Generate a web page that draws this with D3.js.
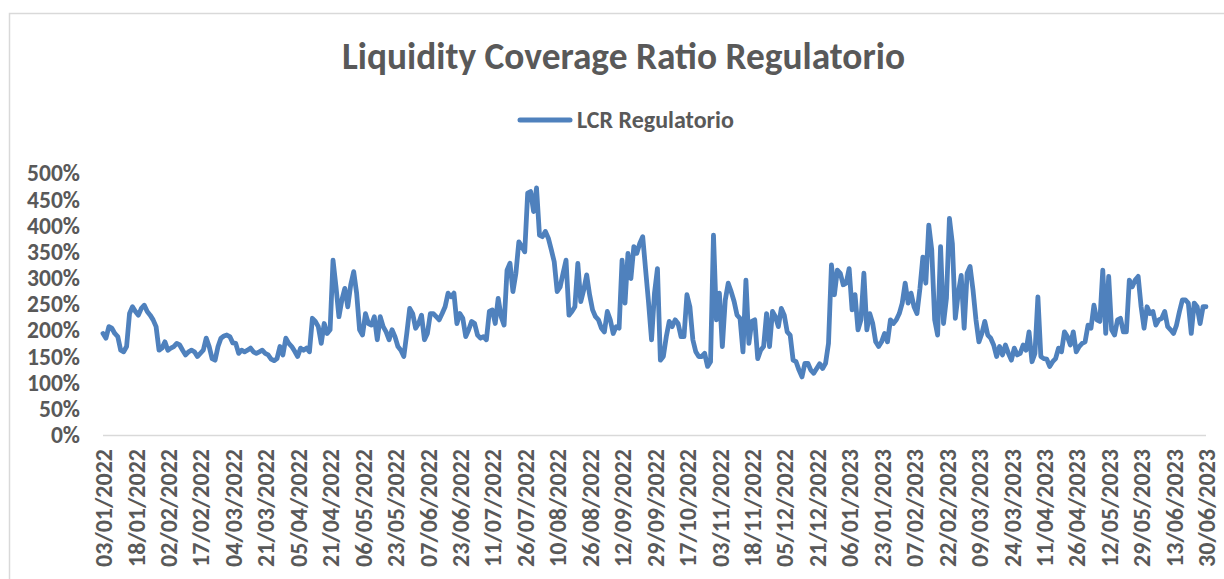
<!DOCTYPE html>
<html>
<head>
<meta charset="utf-8">
<script src="https://cdn.jsdelivr.net/npm/d3@7"></script>
<style>
  html, body { margin: 0; padding: 0; background: #ffffff; }
  svg { display: block; }
</style>
</head>
<body>
<svg id="chart" width="1224" height="579"></svg>
<script>
// ---------------- DATA ----------------
const chartTitle = "Liquidity Coverage Ratio Regulatorio";
const seriesName = "LCR Regulatorio";

// Category labels shown on the x axis (one every 11 business days)
const tickLabels = [
  "03/01/2022","18/01/2022","02/02/2022","17/02/2022","04/03/2022","21/03/2022",
  "05/04/2022","21/04/2022","06/05/2022","23/05/2022","07/06/2022","23/06/2022",
  "11/07/2022","26/07/2022","10/08/2022","26/08/2022","12/09/2022","29/09/2022",
  "17/10/2022","03/11/2022","18/11/2022","05/12/2022","21/12/2022","06/01/2023",
  "23/01/2023","07/02/2023","22/02/2023","09/03/2023","24/03/2023","11/04/2023",
  "26/04/2023","12/05/2023","29/05/2023","13/06/2023","30/06/2023"
];
const labelInterval = 11;

// Y axis ticks (percent)
const yTicks = [0, 50, 100, 150, 200, 250, 300, 350, 400, 450, 500];

// LCR Regulatorio daily values (%)
const lcrValues = [
  // Jan - Apr 2022
  194,185,207,204,194,188,162,159,169,232,
  245,236,229,242,248,236,229,220,207,162,
  166,178,162,166,169,175,172,162,153,159,
  162,159,150,156,162,185,169,146,143,169,
  185,189,191,188,176,175,156,162,159,162,
  166,159,156,159,162,156,153,145,142,
  // Apr - Jul 2022
  146,169,153,185,175,169,160,150,166,162,
  166,159,223,217,207,175,213,194,201,334,
  283,226,258,280,245,287,312,271,201,191,
  232,213,210,226,182,226,207,197,182,201,
  188,169,162,150,194,242,232,204,213,229,
  182,194,232,232,226,220,232,245,271,264,
  271,213,232,223,
  // Jul - Oct 2022
  188,201,217,213,191,185,188,182,236,239,
  213,261,226,210,315,328,274,309,369,360,
  350,462,465,427,472,382,379,389,376,354,
  331,274,283,309,334,229,236,245,328,255,
  277,306,268,239,226,220,204,197,236,220,
  194,207,204,334,252,347,299,360,347,366,
  379,315,252,182,271,318,
  // Oct 2022 - Jan 2023
  143,150,188,217,207,220,213,188,188,268,
  245,182,159,150,150,156,131,140,382,220,
  271,169,258,290,274,255,229,223,159,296,
  175,217,220,146,162,169,232,169,236,226,
  207,242,229,197,191,143,140,124,111,137,
  137,124,118,127,136,127,137,175,325,268,
  315,309,287,290,318,239,268,201,
  // Jan - Apr 2023
  220,309,201,232,213,178,169,178,194,178,
  220,213,220,232,252,290,252,271,245,232,
  280,340,290,401,354,220,191,360,213,262,
  414,366,223,271,305,204,309,322,277,220,
  178,194,217,191,185,172,150,169,153,172,
  156,143,166,153,156,172,162,197,140,156,
  264,150,
  // Apr - Jun 2023
  146,145,131,140,146,166,159,197,188,172,
  197,159,169,175,178,210,204,248,220,217,
  315,194,303,201,191,220,223,197,197,296,
  283,296,303,245,204,245,232,236,210,220,
  223,236,207,201,194,210,236,258,258,252,
  194,252,245,213,245,245
];

// ---------------- STYLE / LAYOUT ----------------
const W = 1224, H = 579;
const fontFamily = "Carlito, Calibri, Lato, 'Open Sans', sans-serif";
const textColor = "#595959";
const lineColor = "#4f81bd";
const axisColor = "#d9d9d9";
const plot = { left: 103, right: 1206, top: 173.3, bottom: 435 };

const svg = d3.select("#chart");

// outer chart border
svg.append("rect")
  .attr("x", 9.5).attr("y", 13.5)
  .attr("width", 1400).attr("height", 800)
  .attr("fill", "#ffffff")
  .attr("stroke", axisColor).attr("stroke-width", 1.5);

// helper: scale the font size of a text node so its width matches a target
function fitWidth(sel, target) {
  const node = sel.node();
  const fs = parseFloat(sel.attr("font-size"));
  const w = node.getComputedTextLength();
  if (w > 0) sel.attr("font-size", (fs * target / w).toFixed(2));
}

// ---------------- SCALES ----------------
const x = d3.scaleLinear()
  .domain([0, lcrValues.length - 1])
  .range([plot.left, plot.right]);
const y = d3.scaleLinear()
  .domain([0, 500])
  .range([plot.bottom, plot.top]);

// ---------------- TITLE ----------------
const titleSel = svg.append("text")
  .attr("x", 623.5).attr("y", 69)
  .attr("text-anchor", "middle")
  .attr("font-family", fontFamily)
  .attr("font-weight", "bold")
  .attr("font-size", 34)
  .attr("fill", textColor)
  .text(chartTitle);
fitWidth(titleSel, 563);

// ---------------- LEGEND ----------------
svg.append("line")
  .attr("x1", 520).attr("x2", 570)
  .attr("y1", 120).attr("y2", 120)
  .attr("stroke", lineColor).attr("stroke-width", 5)
  .attr("stroke-linecap", "round");
const legSel = svg.append("text")
  .attr("x", 577).attr("y", 120)
  .attr("dy", "0.35em")
  .attr("font-family", fontFamily)
  .attr("font-weight", "bold")
  .attr("font-size", 20)
  .attr("fill", textColor)
  .text(seriesName);
fitWidth(legSel, 157);

// ---------------- Y AXIS ----------------
const yAxis = svg.append("g")
  .attr("transform", `translate(${plot.left},0)`)
  .call(d3.axisLeft(y).tickValues(yTicks).tickFormat(d => d + "%").tickSize(0).tickPadding(23));
yAxis.select(".domain").remove();
yAxis.selectAll("text")
  .attr("font-family", fontFamily)
  .attr("font-weight", "bold")
  .attr("font-size", 22)
  .attr("fill", textColor);
{
  const s500 = yAxis.selectAll("text").filter(d => d === 500);
  const fs = parseFloat(s500.attr("font-size"));
  const w = s500.node().getComputedTextLength();
  const nfs = (fs * 53 / w).toFixed(2);
  yAxis.selectAll("text").attr("font-size", nfs);
}

// ---------------- X AXIS ----------------
const xTickIdx = d3.range(0, lcrValues.length, labelInterval).slice(0, tickLabels.length);
const xAxis = svg.append("g")
  .attr("transform", `translate(0,${plot.bottom})`)
  .call(d3.axisBottom(x).tickValues(xTickIdx)
        .tickFormat(i => tickLabels[Math.round(i / labelInterval)])
        .tickSize(0).tickPadding(0));
xAxis.select(".domain")
  .attr("stroke", axisColor).attr("stroke-width", 1.5)
  .attr("d", `M${plot.left},0.5H${plot.right}`);
xAxis.selectAll("text")
  .attr("font-family", fontFamily)
  .attr("font-weight", "bold")
  .attr("font-size", 22)
  .attr("fill", textColor)
  .attr("text-anchor", "end")
  .attr("transform", "rotate(-90)")
  .attr("x", -14).attr("y", 0)
  .attr("dy", "0.36em");
{
  const first = xAxis.select(".tick text");
  const fs = parseFloat(first.attr("font-size"));
  const w = first.node().getComputedTextLength();
  const nfs = (fs * 118 / w).toFixed(2);
  xAxis.selectAll("text").attr("font-size", nfs);
}

// ---------------- LINE ----------------
const line = d3.line()
  .x((d, i) => x(i))
  .y(d => y(d));
svg.append("path")
  .datum(lcrValues)
  .attr("fill", "none")
  .attr("stroke", lineColor)
  .attr("stroke-width", 4.8)
  .attr("stroke-linejoin", "round")
  .attr("stroke-linecap", "round")
  .attr("d", line);
</script>
</body>
</html>
